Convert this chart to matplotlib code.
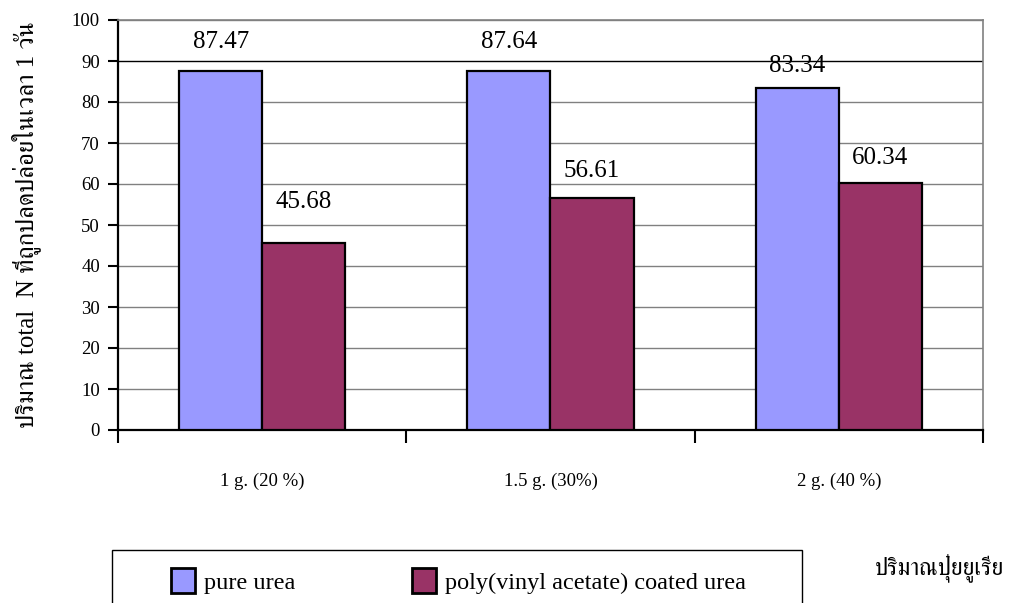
import matplotlib
matplotlib.use("Agg")
import matplotlib.pyplot as plt
from matplotlib import font_manager
from matplotlib.patches import Patch, Rectangle
import numpy as np

# ---- data ----
categories = ["1 g. (20 %)", "1.5 g. (30%)", "2 g. (40 %)"]
pure_urea = [87.47, 87.64, 83.34]
coated_urea = [45.68, 56.61, 60.34]
series_names = ["pure urea", "poly(vinyl acetate) coated urea"]
y_ticks = [0, 10, 20, 30, 40, 50, 60, 70, 80, 90, 100]
y_label = "ปริมาณ total  N ที่ถูกปลดปล่อยในเวลา 1 วัน"
x_label = "ปริมาณปุ๋ยยูเรีย"

# ---- style ----
BLUE = "#9999FF"
PLUM = "#993366"
# vertical distance (points) of each value label above its bar
pure_label_gap = [21, 21, 16]
coated_label_gap = [29, 19.5, 18]


def thai_families():
    """Installed families that carry Thai glyphs, serif faces first."""
    try:
        from fontTools.ttLib import TTFont
    except ImportError:
        return []
    found = []
    for entry in font_manager.fontManager.ttflist:
        if entry.name in found:
            continue
        try:
            font = TTFont(entry.fname, fontNumber=0, lazy=True)
            cmap = font.getBestCmap() or {}
        except Exception:
            continue
        if 0x0E1B in cmap and 0x0E35 in cmap and 0x0E38 in cmap:
            found.append(entry.name)
    found.sort(key=lambda n: (0 if "serif" in n.lower() and "sans" not in n.lower() else 1, n))
    return found


thai = thai_families()
serif = ["Liberation Serif"] + thai + ["DejaVu Serif", "DejaVu Sans"]
plt.rcParams["font.family"] = serif

W, H = 1012, 603
fig = plt.figure(figsize=(W / 100, H / 100), dpi=100)
ax = fig.add_axes([118 / W, 1 - 430 / H, (983 - 118) / W, (430 - 20) / H])

n = len(categories)
centers = np.arange(n) + 0.5
bw = 0.288
b1 = ax.bar(centers - bw / 2, pure_urea, bw, color=BLUE, edgecolor="black", linewidth=1.6, zorder=3)
b2 = ax.bar(centers + bw / 2, coated_urea, bw, color=PLUM, edgecolor="black", linewidth=1.6, zorder=3)

for bars, vals, gaps in ((b1, pure_urea, pure_label_gap), (b2, coated_urea, coated_label_gap)):
    for rect, v, g in zip(bars, vals, gaps):
        ax.annotate(f"{v:.2f}", (rect.get_x() + rect.get_width() / 2, v),
                    xytext=(0, g), textcoords="offset points",
                    ha="center", va="center", fontsize=18, zorder=4)

ax.set_xlim(0, n)
ax.set_ylim(0, 100)

# gridlines
for t in y_ticks[1:]:
    ax.axhline(t, color="black" if t == 90 else "#808080", linewidth=1.0, zorder=1)

# y axis
ax.set_yticks(y_ticks)
ax.tick_params(axis="y", direction="out", length=7, width=1.5, labelsize=13.5, pad=6)

# x axis: ticks at group boundaries, labels centered on groups
ax.set_xticks(np.arange(n + 1))
ax.set_xticklabels([])
ax.tick_params(axis="x", which="major", direction="out", length=9, width=1.5)
ax.set_xticks(centers, minor=True)
ax.set_xticklabels(categories, minor=True, fontsize=13.5)
ax.tick_params(axis="x", which="minor", length=0, pad=31)

for side in ("left", "bottom"):
    ax.spines[side].set_linewidth(1.6)
    ax.spines[side].set_color("black")
ax.spines["right"].set_color("#808080")
ax.spines["right"].set_linewidth(1.2)
ax.spines["top"].set_color("#808080")
ax.spines["top"].set_linewidth(1.2)

ax.set_ylabel(y_label, fontsize=18, labelpad=22)

fig.text(940 / W, 1 - 568 / H, x_label, fontsize=17, ha="center", va="center")

# legend
fig.patches.append(Rectangle((112 / W, 1 - 620 / H), (802 - 112) / W, (620 - 550) / H,
                             transform=fig.transFigure, facecolor="white",
                             edgecolor="black", linewidth=1.0, zorder=0))
handles = [Patch(facecolor=BLUE, edgecolor="black", linewidth=2.0),
           Patch(facecolor=PLUM, edgecolor="black", linewidth=2.0)]
fig.legend(handles, series_names, loc="center left",
           bbox_to_anchor=(159 / W, 1 - 581 / H), ncol=2, frameon=False,
           fontsize=17.5, borderpad=0, handlelength=1.0, handleheight=1.2,
           handletextpad=0.35, columnspacing=4.8)

fig.savefig("out.png", dpi=100)
